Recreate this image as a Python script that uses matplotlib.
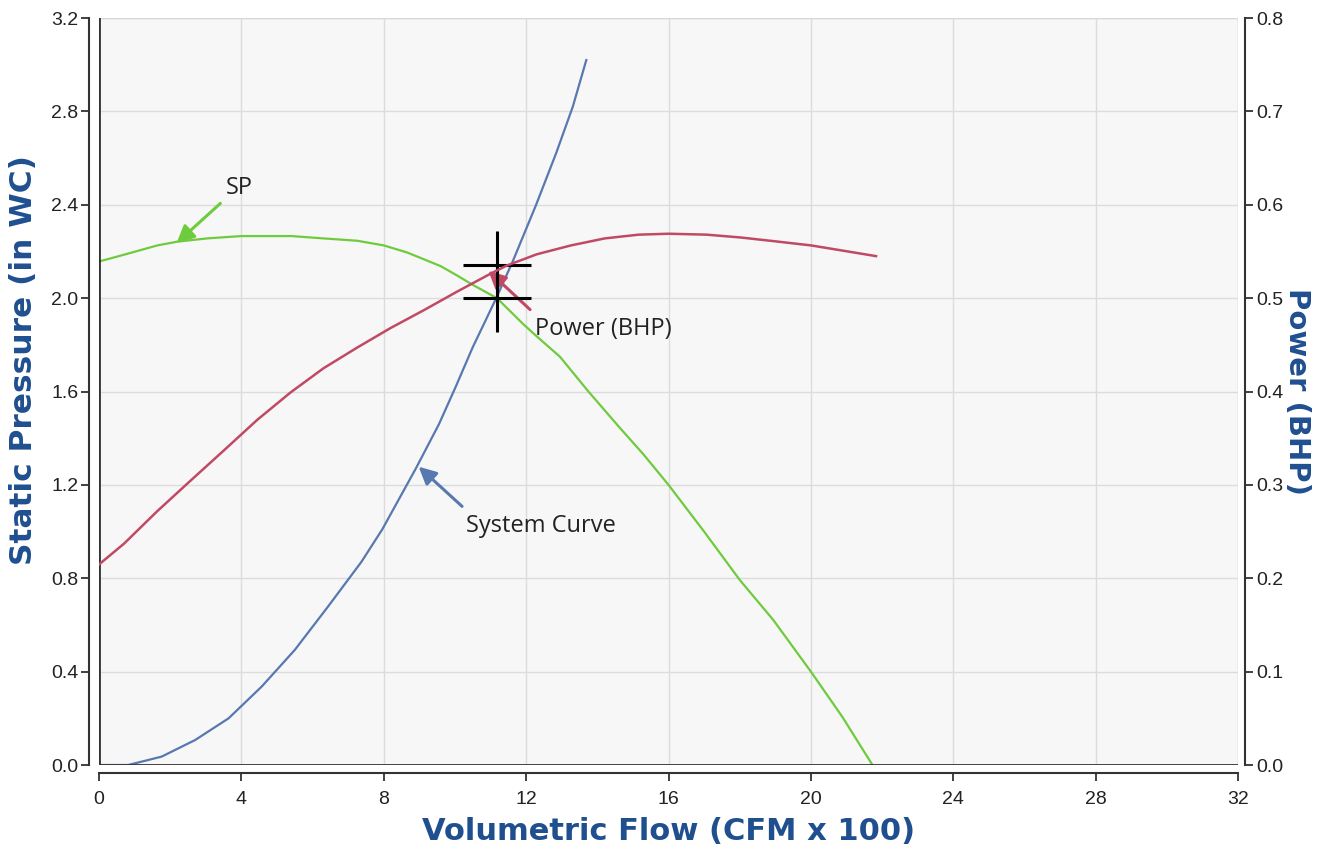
"""Fan curve: static pressure, power and system curve vs volumetric flow."""

import matplotlib

matplotlib.use("Agg")
import matplotlib.pyplot as plt  # noqa: E402

# Fan static pressure curve (in WC) vs flow (CFM x 100)
sp_flow = [0.0, 0.7, 1.64, 2.2, 3.04, 4.0, 5.4, 6.3, 7.25, 8.0, 8.65, 9.12, 9.6, 10.06, 10.5,
           11.18, 11.93, 12.3, 12.95, 13.75, 14.6, 15.3, 16.0, 17.0, 18.0, 18.95, 20.0, 20.88, 21.73]
sp_val = [2.157, 2.186, 2.226, 2.242, 2.256, 2.266, 2.266, 2.256, 2.246, 2.226, 2.196, 2.167, 2.137, 2.097, 2.057,
          2.0, 1.887, 1.836, 1.749, 1.60, 1.45, 1.33, 1.2, 1.0, 0.793, 0.62, 0.40, 0.207, 0.0]

# Fan power curve (BHP)
pw_flow = [0.0, 0.7, 1.64, 2.57, 3.51, 4.44, 5.38, 6.31, 7.25, 8.19, 9.12, 10.06, 10.99, 11.46, 12.3,
           13.26, 14.21, 15.16, 16.0, 17.07, 18.02, 18.97, 20.0, 20.88, 21.83]
pw_val = [0.2148, 0.237, 0.272, 0.3045, 0.337, 0.3695, 0.399, 0.425, 0.447, 0.468, 0.487, 0.507, 0.526, 0.535, 0.547,
          0.5565, 0.564, 0.568, 0.569, 0.568, 0.565, 0.561, 0.5565, 0.551, 0.545]

# System curve (in WC)
sys_flow = [0.0, 0.82, 1.76, 2.7, 3.64, 4.57, 5.5, 6.44, 7.37, 7.96, 8.9, 9.55, 10.02, 10.5,
            11.16, 11.63, 12.28, 12.84, 13.31, 13.69]
sys_val = [0.0, 0.0, 0.036, 0.107, 0.20, 0.336, 0.493, 0.68, 0.87, 1.01, 1.27, 1.46, 1.62, 1.79,
           2.0, 2.16, 2.40, 2.62, 2.82, 3.02]

# Operating point markers
op_flow = [11.18, 11.18]
op_sp = [2.14, 2.0]

x_ticks = [0, 4, 8, 12, 16, 20, 24, 28, 32]
sp_ticks = [0.0, 0.4, 0.8, 1.2, 1.6, 2.0, 2.4, 2.8, 3.2]
pw_ticks = [0.0, 0.1, 0.2, 0.3, 0.4, 0.5, 0.6, 0.7, 0.8]

GREEN = "#6fcb3e"
RED = "#c04a64"
BLUE = "#5878b0"
LABEL = "#1f4f8f"
DARK = "#333333"

plt.rcParams["font.family"] = ["Liberation Sans", "DejaVu Sans"]

fig = plt.figure(figsize=(13.4, 8.47), dpi=100)
ax = fig.add_axes([0.0739, 0.0968, 0.850, 0.8819])
ax.set_facecolor("#f7f7f7")
ax2 = ax.twinx()

ax.plot(sp_flow, sp_val, color=GREEN, lw=1.6, zorder=3)
ax.plot(sys_flow, sys_val, color=BLUE, lw=1.6, zorder=3)
ax2.plot(pw_flow, pw_val, color=RED, lw=1.8, zorder=3)
ax.plot(op_flow, op_sp, "+", color="black", markersize=49, mew=2.2, zorder=5)

ax.set_xlim(0, 32)
ax.set_ylim(0, 3.2)
ax2.set_ylim(0, 0.8)
ax.set_xticks(x_ticks)
ax.set_yticks(sp_ticks)
ax2.set_yticks(pw_ticks)
ax.set_yticklabels([f"{t:.1f}" for t in sp_ticks])
ax2.set_yticklabels([f"{t:.1f}" for t in pw_ticks])

ax.grid(True, color="#dcdcdc", lw=1)
ax.set_axisbelow(True)

# offset spines (points), inner frame drawn separately
for name in ("top", "right"):
    ax.spines[name].set_visible(False)
for name in ("top", "left", "bottom"):
    ax2.spines[name].set_visible(False)
ax.spines["left"].set_position(("outward", 7))
ax.spines["bottom"].set_position(("outward", 6))
ax2.spines["right"].set_position(("outward", 5))
for sp in (ax.spines["left"], ax.spines["bottom"], ax2.spines["right"]):
    sp.set_color(DARK)
    sp.set_linewidth(1.5)
ax.axvline(0, color=DARK, lw=2, zorder=4)
ax.axhline(0, color=DARK, lw=2, zorder=4)
ax.axvline(32, color="#d8d8d8", lw=1, zorder=1)
ax.axhline(3.2, color="#d8d8d8", lw=1, zorder=1)

ax.tick_params(axis="both", length=6, width=1.3, color=DARK, labelcolor="#222222", labelsize=14)
ax.tick_params(axis="x", pad=7)
ax.tick_params(axis="y", pad=2)
ax2.tick_params(axis="y", length=6, width=1.3, color=DARK, labelcolor="#222222", labelsize=14, pad=2)

label_font = dict(family=["DejaVu Sans"], fontweight="bold", color=LABEL)
ax.set_xlabel("Volumetric Flow (CFM x 100)", fontsize=22, labelpad=6, **label_font)
ax.set_ylabel("Static Pressure (in WC)", fontsize=22.5, **label_font)
ax.yaxis.set_label_coords(-0.054, 0.542)
ax2.set_ylabel("Power (BHP)", fontsize=21, rotation=-90, labelpad=20, **label_font)

# curve callouts: arrow and text placed separately
note_font = dict(family=["Open Sans", "DejaVu Sans"], fontsize=17, color="#222222", va="center")
arrow = dict(arrowstyle="-|>", lw=2.2, mutation_scale=26, shrinkA=0, shrinkB=0)
ax.annotate("", xy=(2.18, 2.236), xytext=(3.41, 2.406), arrowprops=dict(arrow, color=GREEN))
ax.text(3.93, 2.47, "SP", ha="center", **note_font)
ax.annotate("", xy=(10.94, 2.117), xytext=(12.11, 1.951), arrowprops=dict(arrow, color=RED), zorder=4)
ax.text(12.25, 1.867, "Power (BHP)", ha="left", **note_font)
ax.annotate("", xy=(8.98, 1.278), xytext=(10.2, 1.108), arrowprops=dict(arrow, color=BLUE))
ax.text(10.32, 1.024, "System Curve", ha="left", **note_font)

fig.savefig("out.png", dpi=100)
